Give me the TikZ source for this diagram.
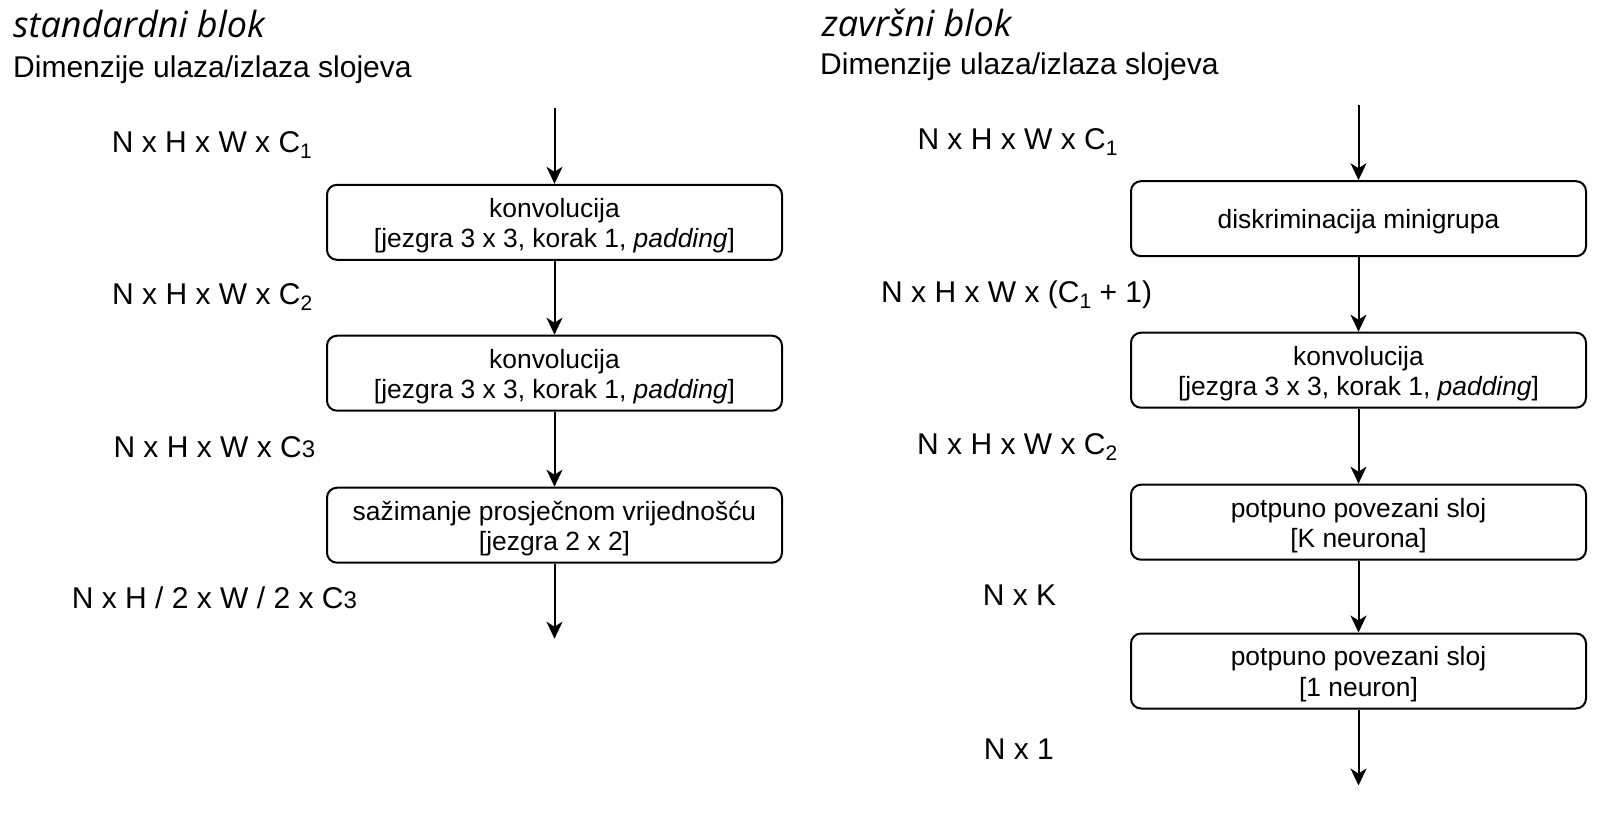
\documentclass[tikz,border=0pt]{standalone}
\usepackage{fontspec}
\setmainfont{Liberation Sans}
\newfontfamily\titlefont{Open Sans}
\usetikzlibrary{arrows.meta}
\newcommand{\lowsub}[1]{\raisebox{-6pt}{\fontsize{21}{24}\selectfont #1}}
\newcommand{\smalldigit}[1]{{\fontsize{24}{24}\selectfont #1}}
\newcommand{\boxtext}[1]{\raisebox{-4pt}[\height][\depth]{\begin{tabular}{@{}c@{}}#1\end{tabular}}}
\begin{document}
\begin{tikzpicture}[x=1pt,y=-1pt,
  blockbox/.style={draw, line width=2pt, rounded corners=10pt, minimum width=455pt, minimum height=75pt, align=center, font=\fontsize{26.4}{30.5}\selectfont, inner sep=0pt},
  flow/.style={line width=2pt, -{Stealth[length=17pt,width=16pt,inset=5pt]}},
  dimlabel/.style={anchor=base west, font=\fontsize{30}{36}\selectfont, inner sep=0pt},
  titletext/.style={anchor=base west, font=\titlefont\itshape\fontsize{36}{40}\selectfont, inner sep=0pt},
  headtext/.style={anchor=base west, font=\fontsize{30}{36}\selectfont, inner sep=0pt}]
\useasboundingbox (0,0) rectangle (1610,829);
\fill[white] (0,0) rectangle (1610,829);

% left column
\node[titletext] (tl) at (13,38) {standardni blok};
\node[headtext] (hl) at (13,78) {Dimenzije ulaza/izlaza slojeva};
\coordinate (ls) at (554.5,107.8);
\coordinate (le) at (554.5,638.7);
\node[blockbox] (l1) at (554.5,222.3) {\boxtext{konvolucija\\{}[jezgra 3 x 3, korak 1, \textit{padding}]}};
\node[blockbox] (l2) at (554.5,373.2) {\boxtext{konvolucija\\{}[jezgra 3 x 3, korak 1, \textit{padding}]}};
\node[blockbox] (l3) at (554.5,525.2) {\boxtext{sažimanje prosječnom vrijednošću\\{}[jezgra 2 x 2]}};
\draw[flow] (ls) -- (l1);
\draw[flow] (l1) -- (l2);
\draw[flow] (l2) -- (l3);
\draw[flow] (l3) -- (le);
\node[dimlabel] (d1) at (111.7,152.7) {N x H x W x C\lowsub{1}};
\node[dimlabel] (d2) at (112,305) {N x H x W x C\lowsub{2}};
\node[dimlabel] (d3) at (113.3,457.7) {N x H x W x C\smalldigit{3}};
\node[dimlabel] (d4) at (71.7,608.3) {N x H / 2 x W / 2 x C\smalldigit{3}};

% right column
\node[titletext] (tr) at (821.7,36.7) {završni blok};
\node[headtext] (hr) at (820,75) {Dimenzije ulaza/izlaza slojeva};
\coordinate (rs) at (1358.5,104.7);
\coordinate (re) at (1358.5,785.5);
\node[blockbox] (r1) at (1358.5,218.7) {\boxtext{diskriminacija minigrupa}};
\node[blockbox] (r2) at (1358.5,370.2) {\boxtext{konvolucija\\{}[jezgra 3 x 3, korak 1, \textit{padding}]}};
\node[blockbox] (r3) at (1358.5,522.2) {\boxtext{potpuno povezani sloj\\{}[K neurona]}};
\node[blockbox] (r4) at (1358.5,671) {\boxtext{potpuno povezani sloj\\{}[1 neuron]}};
\draw[flow] (rs) -- (r1);
\draw[flow] (r1) -- (r2);
\draw[flow] (r2) -- (r3);
\draw[flow] (r3) -- (r4);
\draw[flow] (r4) -- (re);
\node[dimlabel] (e1) at (917.3,149.5) {N x H x W x C\lowsub{1}};
\node[dimlabel] (e2) at (881,302.5) {N x H x W x (C\lowsub{1} + 1)};
\node[dimlabel] (e3) at (917,454.5) {N x H x W x C\lowsub{2}};
\node[dimlabel] (e4) at (982.6,605.5) {N x K};
\node[dimlabel] (e5) at (983.7,759.5) {N x 1};
\end{tikzpicture}
\end{document}
